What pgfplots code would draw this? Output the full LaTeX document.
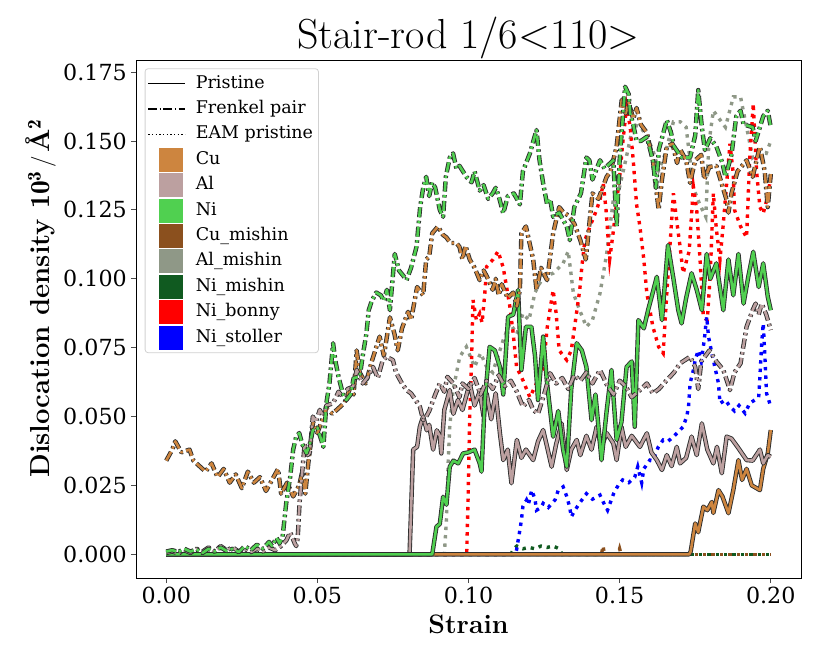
\documentclass[border=0pt]{standalone}
\usepackage{pgfplots}
\pgfplotsset{compat=1.18}
\usepackage{fontspec}
\newfontfamily\dvs{DejaVu Serif}
\definecolor{cu}{RGB}{205,133,63}
\definecolor{al}{RGB}{188,160,160}
\definecolor{ni}{RGB}{80,208,80}
\definecolor{cum}{RGB}{139,80,30}
\definecolor{alm}{RGB}{143,152,135}
\definecolor{nim}{RGB}{16,90,32}
\definecolor{nib}{RGB}{255,0,0}
\definecolor{nis}{RGB}{0,0,255}
\definecolor{outl}{RGB}{45,45,45}
\pgfplotsset{
 pr/.style={solid, line width=2.6pt, line join=round, preaction={draw=outl, line width=4.4pt, solid}},
 fp/.style={line width=2.6pt, line join=round, dash pattern=on 10pt off 3.5pt on 2.5pt off 3.5pt,
   preaction={draw=outl, line width=4.4pt, dash pattern=on 10pt off 3.5pt on 2.5pt off 3.5pt}},
 eam/.style={line width=3.4pt, dash pattern=on 3.4pt off 5pt},
}
\newcommand{\patch}[1]{\path[draw=none,fill=none] (0pt,0pt) -- (37pt,0pt); \fill[#1, draw=none, sharp corners] (11pt,-12pt) rectangle (35pt,12pt);}
\begin{document}
\begin{tikzpicture}
\useasboundingbox (0,0) rectangle (830pt,664pt);
\begin{axis}[
 at={(136pt,86pt)}, anchor=south west,
 scale only axis, width=665pt, height=518pt,
 xmin=-0.01, xmax=0.21, ymin=-0.0086, ymax=0.1794,
 xtick={0,0.05,0.1,0.15,0.2}, xticklabels={0.00,0.05,0.10,0.15,0.20},
 ytick={0,0.025,0.05,0.075,0.1,0.125,0.15,0.175},
 yticklabels={0.000,0.025,0.050,0.075,0.100,0.125,0.150,0.175},
 tick align=outside, tick pos=left, major tick length=5pt,
 every tick/.style={black!70, line width=0.8pt},
 axis line style={black, line width=0.9pt},
 ticklabel style={font=\dvs\fontsize{22.2}{26}\selectfont, inner sep=4pt},
 xlabel={\textbf{Strain}},
 ylabel={\textbf{Dislocation density $\mathbf{10^{3}}$\hspace{3pt}$\mathbf{/}$\hspace{4pt}Å$^{\mathbf{2}}$}},
 xlabel style={font=\fontsize{26.7}{32}\selectfont, at={(axis description cs:0.5,-0.0888)}, anchor=center},
 ylabel style={font=\fontsize{27.5}{33}\selectfont, at={(axis description cs:-0.143,0.54)}, anchor=center},
 title={Stair-rod 1/6<110>},
 title style={font=\fontsize{42}{50}\selectfont, at={(axis description cs:0.5,1)}, anchor=base, yshift=5pt},
 legend style={at={(axis description cs:0.0131,0.984)}, anchor=north west, draw=black!18,
   rounded corners=3pt, line width=0.8pt, fill=white, inner sep=2.3pt,
   font=\dvs\fontsize{17.5}{21}\selectfont, row sep=0pt,
   nodes={inner xsep=3pt, inner ysep=3.7pt, text height=13.5pt, text depth=4.5pt}},
 legend cell align=left,
 /tikz/every odd column/.append style={column sep=7pt},
]
\addlegendimage{legend image code/.code={\draw[black, line width=1.4pt, solid, sharp corners] (0pt,0pt) -- (37pt,0pt);}}
\addlegendentry{Pristine}
\addlegendimage{legend image code/.code={\draw[black, line width=1.4pt, dash pattern=on 9pt off 2.4pt on 1.5pt off 2.4pt] (0pt,0pt) -- (37pt,0pt);}}
\addlegendentry{Frenkel pair}
\addlegendimage{legend image code/.code={\draw[black, line width=1.4pt, dash pattern=on 1.4pt off 2.3pt] (0pt,0pt) -- (37pt,0pt);}}
\addlegendentry{EAM pristine}
\addlegendimage{legend image code/.code={\patch{cu}}}
\addlegendentry{Cu}
\addlegendimage{legend image code/.code={\patch{al}}}
\addlegendentry{Al}
\addlegendimage{legend image code/.code={\patch{ni}}}
\addlegendentry{Ni}
\addlegendimage{legend image code/.code={\patch{cum}}}
\addlegendentry{Cu\_mishin}
\addlegendimage{legend image code/.code={\patch{alm}}}
\addlegendentry{Al\_mishin}
\addlegendimage{legend image code/.code={\patch{nim}}}
\addlegendentry{Ni\_mishin}
\addlegendimage{legend image code/.code={\patch{nib}}}
\addlegendentry{Ni\_bonny}
\addlegendimage{legend image code/.code={\patch{nis}}}
\addlegendentry{Ni\_stoller}

% EAM dotted
\addplot[forget plot, cum, eam] coordinates {(0,0) (0.144,0) (0.1445,0.003) (0.145,0) (0.1495,0) (0.150,0.002) (0.1505,0) (0.172,0)};
\addplot[forget plot, cum, eam] coordinates {(0.172,0) (0.2,0)};
\addplot[forget plot, alm, eam] coordinates {(0,0) (0.092,0) (0.0927,0.0124) (0.0933,0.0342) (0.0938,0.0463) (0.0949,0.0596) (0.0971,0.0717) (0.0993,0.0753) (0.102,0.068) (0.104,0.073) (0.106,0.068) (0.108,0.066) (0.1115,0.0778) (0.1137,0.0838) (0.116,0.080) (0.118,0.0874) (0.120,0.085) (0.122,0.095) (0.1247,0.1007) (0.128,0.102) (0.1313,0.1056) (0.133,0.110) (0.1347,0.0947) (0.137,0.088) (0.139,0.0826) (0.141,0.085) (0.1435,0.0947) (0.1457,0.109) (0.1479,0.1286) (0.150,0.1334) (0.152,0.143) (0.1545,0.156) (0.157,0.155) (0.159,0.1515) (0.161,0.1467) (0.1629,0.1394) (0.165,0.145) (0.1678,0.157) (0.170,0.157) (0.172,0.155) (0.1744,0.133) (0.1765,0.127) (0.1785,0.1225) (0.1795,0.149) (0.181,0.161) (0.183,0.158) (0.185,0.155) (0.1876,0.166) (0.190,0.166) (0.192,0.155) (0.194,0.144) (0.196,0.146) (0.1985,0.1455) (0.200,0.150)};
\addplot[forget plot, nim, eam] coordinates {(0,0) (0.114,0) (0.115,0.002) (0.116,0.003) (0.118,0.002) (0.120,0.0025) (0.122,0.002) (0.124,0.003) (0.126,0.0025) (0.128,0.003) (0.130,0.002) (0.131,0.0) (0.172,0)};
\addplot[forget plot, nim, eam, dash phase=4.2pt] coordinates {(0.172,0) (0.2,0)};
\addplot[forget plot, nib, eam] coordinates {(0,0) (0.0994,0) (0.0999,0.022) (0.1004,0.050) (0.101,0.0705) (0.1015,0.0923) (0.1026,0.085) (0.1037,0.0874) (0.1045,0.084) (0.1054,0.0947) (0.106,0.1044) (0.1081,0.107) (0.1098,0.110) (0.1115,0.104) (0.1126,0.097) (0.1137,0.0898) (0.1148,0.080) (0.1159,0.068) (0.118,0.0632) (0.1203,0.057) (0.1225,0.062) (0.1247,0.0669) (0.126,0.082) (0.128,0.0959) (0.129,0.0874) (0.130,0.074) (0.1325,0.0705) (0.134,0.074) (0.1368,0.0959) (0.1375,0.1044) (0.1385,0.114) (0.1402,0.119) (0.142,0.124) (0.1435,0.1286) (0.1446,0.1346) (0.1455,0.125) (0.1467,0.107) (0.148,0.118) (0.149,0.128) (0.150,0.137) (0.151,0.149) (0.1523,0.1624) (0.1535,0.155) (0.1545,0.143) (0.1556,0.127) (0.1567,0.119) (0.158,0.107) (0.159,0.0947) (0.161,0.0826) (0.1629,0.0753) (0.1644,0.073) (0.1656,0.0947) (0.1678,0.131) (0.169,0.120) (0.170,0.1116) (0.171,0.102) (0.173,0.110) (0.1744,0.1334) (0.1755,0.125) (0.1766,0.107) (0.1777,0.0862) (0.179,0.085) (0.180,0.102) (0.181,0.131) (0.182,0.118) (0.1832,0.107) (0.1843,0.120) (0.1865,0.149) (0.1876,0.138) (0.188,0.125) (0.190,0.119) (0.192,0.115) (0.193,0.143) (0.1942,0.1636) (0.1953,0.139) (0.1964,0.126) (0.1975,0.1237) (0.199,0.130) (0.200,0.137)};
\addplot[forget plot, nis, eam] coordinates {(0,0) (0.1155,0) (0.1159,0.0016) (0.117,0.0088) (0.1175,0.0124) (0.118,0.0173) (0.1192,0.0197) (0.1198,0.018) (0.1209,0.0233) (0.122,0.020) (0.1225,0.016) (0.124,0.017) (0.1247,0.0185) (0.1264,0.0170) (0.1286,0.0197) (0.1297,0.0233) (0.1313,0.0245) (0.1325,0.021) (0.1335,0.017) (0.134,0.0136) (0.1352,0.016) (0.1375,0.0197) (0.139,0.022) (0.141,0.020) (0.1435,0.0215) (0.145,0.018) (0.146,0.016) (0.148,0.022) (0.1495,0.025) (0.151,0.027) (0.153,0.026) (0.155,0.028) (0.156,0.0318) (0.1573,0.026) (0.158,0.031) (0.160,0.0342) (0.161,0.034) (0.1628,0.039) (0.1644,0.0415) (0.166,0.041) (0.1678,0.0427) (0.169,0.044) (0.171,0.0463) (0.1722,0.050) (0.1728,0.0536) (0.173,0.057) (0.1733,0.062) (0.1744,0.0669) (0.175,0.0705) (0.176,0.074) (0.177,0.070) (0.178,0.0778) (0.1788,0.0862) (0.1794,0.079) (0.1805,0.073) (0.1815,0.068) (0.1827,0.062) (0.1832,0.0548) (0.185,0.056) (0.1865,0.0536) (0.188,0.052) (0.1895,0.054) (0.1915,0.0512) (0.193,0.0548) (0.1947,0.056) (0.196,0.057) (0.1964,0.0644) (0.197,0.0766) (0.1975,0.0838) (0.198,0.073) (0.1986,0.0584) (0.200,0.0536)};

% Pristine solid
\addplot[forget plot, cu, pr] coordinates {(0,0) (0.173,0) (0.1735,0.001) (0.175,0.0112) (0.176,0.008) (0.1777,0.0173) (0.179,0.016) (0.1805,0.019) (0.181,0.015) (0.1827,0.0233) (0.184,0.021) (0.186,0.0149) (0.1876,0.0233) (0.1893,0.0342) (0.1905,0.027) (0.192,0.031) (0.1937,0.025) (0.1953,0.024) (0.1964,0.0233) (0.1975,0.031) (0.199,0.0366) (0.200,0.0451)};
\addplot[forget plot, al, pr] coordinates {(0,0) (0.0805,0) (0.0817,0.038) (0.083,0.039) (0.0839,0.0463) (0.085,0.050) (0.0862,0.045) (0.087,0.047) (0.0883,0.038) (0.0895,0.045) (0.0905,0.043) (0.091,0.0366) (0.092,0.0524) (0.0938,0.0596) (0.095,0.051) (0.0965,0.056) (0.098,0.0524) (0.1004,0.062) (0.102,0.054) (0.1037,0.059) (0.105,0.050) (0.106,0.0584) (0.1075,0.049) (0.109,0.0584) (0.1104,0.0439) (0.1115,0.0342) (0.113,0.038) (0.1142,0.0258) (0.116,0.0415) (0.1175,0.035) (0.119,0.038) (0.1214,0.0342) (0.123,0.041) (0.1247,0.0451) (0.126,0.039) (0.1275,0.0318) (0.129,0.040) (0.1308,0.0475) (0.1325,0.0306) (0.134,0.038) (0.1358,0.0415) (0.137,0.036) (0.139,0.043) (0.1407,0.038) (0.1424,0.0463) (0.144,0.039) (0.1457,0.044) (0.1479,0.0403) (0.149,0.0342) (0.1506,0.0463) (0.152,0.039) (0.154,0.043) (0.1567,0.039) (0.159,0.0439) (0.1605,0.037) (0.1623,0.0342) (0.164,0.0306) (0.1656,0.036) (0.1672,0.032) (0.1689,0.039) (0.170,0.033) (0.172,0.035) (0.1738,0.0427) (0.1755,0.036) (0.1772,0.0475) (0.179,0.038) (0.181,0.033) (0.1822,0.039) (0.1838,0.0294) (0.1854,0.0427) (0.187,0.042) (0.189,0.039) (0.192,0.0342) (0.194,0.034) (0.1964,0.038) (0.1975,0.033) (0.199,0.036) (0.200,0.0354)};
\addplot[forget plot, ni, pr] coordinates {(0,0) (0.088,0) (0.0894,0.010) (0.0905,0.011) (0.0916,0.0209) (0.0927,0.018) (0.0938,0.0318) (0.095,0.034) (0.0966,0.033) (0.0982,0.0366) (0.100,0.037) (0.102,0.038) (0.1037,0.033) (0.1043,0.030) (0.1054,0.056) (0.107,0.0753) (0.1087,0.074) (0.1104,0.068) (0.1115,0.058) (0.1131,0.0862) (0.1148,0.087) (0.1164,0.0959) (0.1175,0.0669) (0.119,0.0826) (0.1208,0.0826) (0.122,0.072) (0.123,0.056) (0.1247,0.079) (0.126,0.062) (0.128,0.0427) (0.1297,0.052) (0.1313,0.038) (0.1325,0.0318) (0.134,0.060) (0.1358,0.0766) (0.1375,0.074) (0.139,0.068) (0.1407,0.0487) (0.142,0.058) (0.144,0.0342) (0.1457,0.052) (0.1473,0.0669) (0.149,0.0415) (0.1506,0.048) (0.1523,0.068) (0.154,0.070) (0.155,0.0463) (0.1562,0.085) (0.158,0.082) (0.1595,0.089) (0.1606,0.0935) (0.1623,0.1007) (0.164,0.085) (0.166,0.1122) (0.1678,0.100) (0.1694,0.0886) (0.1705,0.0838) (0.172,0.093) (0.1738,0.102) (0.1755,0.096) (0.1772,0.0886) (0.1788,0.109) (0.180,0.100) (0.182,0.1056) (0.1843,0.0886) (0.186,0.107) (0.1876,0.094) (0.1893,0.109) (0.191,0.091) (0.1926,0.101) (0.1942,0.1098) (0.196,0.097) (0.1975,0.1056) (0.199,0.0935) (0.200,0.0886)};

% Frenkel pair dash-dot
\addplot[forget plot, cu, fp] coordinates {(0.000,0.034) (0.002,0.038) (0.003,0.041) (0.005,0.037) (0.0077,0.038) (0.009,0.034) (0.011,0.032) (0.013,0.030) (0.015,0.033) (0.017,0.028) (0.019,0.031) (0.021,0.026) (0.023,0.029) (0.025,0.024) (0.027,0.030) (0.029,0.026) (0.031,0.028) (0.033,0.023) (0.035,0.027) (0.037,0.031) (0.038,0.022) (0.040,0.026) (0.042,0.021) (0.044,0.025) (0.045,0.030) (0.046,0.022) (0.047,0.033) (0.0486,0.048) (0.050,0.044) (0.052,0.050) (0.053,0.053) (0.055,0.051) (0.057,0.053) (0.059,0.055) (0.0607,0.060) (0.062,0.058) (0.063,0.074) (0.064,0.066) (0.066,0.062) (0.068,0.070) (0.0706,0.079) (0.072,0.072) (0.074,0.086) (0.0755,0.080) (0.0766,0.074) (0.078,0.082) (0.080,0.088) (0.081,0.085) (0.083,0.097) (0.085,0.094) (0.086,0.107) (0.087,0.108) (0.088,0.1165) (0.0899,0.119) (0.0915,0.116) (0.0927,0.115) (0.094,0.113) (0.096,0.113) (0.097,0.1116) (0.098,0.107) (0.099,0.112) (0.1004,0.107) (0.102,0.104) (0.1037,0.0995) (0.105,0.103) (0.106,0.101) (0.108,0.096) (0.109,0.100) (0.110,0.094) (0.111,0.098) (0.113,0.093) (0.1148,0.095) (0.116,0.090) (0.117,0.096) (0.1175,0.1165) (0.119,0.119) (0.1214,0.107) (0.1225,0.096) (0.124,0.104) (0.126,0.0995) (0.128,0.1165) (0.130,0.126) (0.1315,0.124) (0.133,0.123) (0.135,0.120) (0.137,0.114) (0.1388,0.107) (0.141,0.131) (0.143,0.129) (0.1457,0.137) (0.147,0.139) (0.149,0.148) (0.1507,0.165) (0.152,0.160) (0.153,0.164) (0.1545,0.158) (0.1556,0.162) (0.157,0.156) (0.159,0.153) (0.161,0.143) (0.1629,0.125) (0.164,0.136) (0.1656,0.148) (0.1675,0.149) (0.169,0.142) (0.170,0.147) (0.172,0.143) (0.1733,0.1348) (0.175,0.143) (0.177,0.145) (0.178,0.136) (0.1797,0.1406) (0.182,0.141) (0.1854,0.1285) (0.186,0.124) (0.187,0.131) (0.189,0.139) (0.192,0.143) (0.194,0.137) (0.1964,0.148) (0.198,0.139) (0.199,0.126) (0.200,0.138)};
\addplot[forget plot, al, fp] coordinates {(0,0.0005) (0.002,0.001) (0.004,0.0003) (0.006,0.0015) (0.008,0.0005) (0.010,0.002) (0.012,0.001) (0.014,0.0025) (0.016,0.001) (0.018,0.003) (0.020,0.0015) (0.022,0.0025) (0.024,0.001) (0.026,0.002) (0.028,0.0008) (0.030,0.002) (0.032,0.001) (0.034,0.0025) (0.036,0.0015) (0.038,0.003) (0.0397,0.005) (0.041,0.008) (0.0425,0.004) (0.043,0.003) (0.0435,0.006) (0.0441,0.0185) (0.045,0.030) (0.0458,0.040) (0.0468,0.036) (0.0475,0.037) (0.0485,0.050) (0.0495,0.048) (0.0508,0.0524) (0.052,0.050) (0.053,0.054) (0.0552,0.0548) (0.057,0.059) (0.0585,0.057) (0.060,0.060) (0.0618,0.0608) (0.063,0.0669) (0.065,0.062) (0.0665,0.064) (0.0684,0.068) (0.070,0.064) (0.0715,0.070) (0.0728,0.0717) (0.075,0.0705) (0.076,0.066) (0.078,0.062) (0.0795,0.0596) (0.081,0.0584) (0.0825,0.056) (0.0839,0.0536) (0.085,0.0487) (0.086,0.050) (0.087,0.052) (0.088,0.055) (0.089,0.058) (0.0905,0.062) (0.092,0.059) (0.093,0.0644) (0.095,0.062) (0.097,0.057) (0.098,0.062) (0.100,0.060) (0.102,0.064) (0.104,0.058) (0.106,0.063) (0.108,0.060) (0.110,0.065) (0.112,0.061) (0.114,0.063) (0.116,0.059) (0.118,0.0536) (0.120,0.056) (0.1214,0.0524) (0.123,0.051) (0.125,0.058) (0.127,0.0657) (0.129,0.062) (0.131,0.064) (0.133,0.060) (0.135,0.065) (0.137,0.063) (0.139,0.066) (0.141,0.062) (0.1435,0.0669) (0.146,0.061) (0.148,0.058) (0.150,0.063) (0.152,0.061) (0.154,0.057) (0.1567,0.0596) (0.159,0.062) (0.161,0.0584) (0.163,0.060) (0.1656,0.0632) (0.168,0.066) (0.170,0.0693) (0.1733,0.0717) (0.175,0.068) (0.176,0.060) (0.177,0.070) (0.1797,0.074) (0.182,0.070) (0.1843,0.0669) (0.1865,0.0596) (0.188,0.066) (0.190,0.0693) (0.192,0.0826) (0.194,0.0886) (0.195,0.091) (0.196,0.087) (0.197,0.091) (0.1985,0.087) (0.200,0.0814)};
\addplot[forget plot, ni, fp] coordinates {(0,0.001) (0.002,0.0015) (0.004,0.0008) (0.006,0.002) (0.008,0.001) (0.010,0.0018) (0.012,0.0005) (0.014,0.002) (0.016,0.001) (0.018,0.0025) (0.020,0.0012) (0.022,0.002) (0.024,0.0008) (0.026,0.003) (0.028,0.0015) (0.030,0.0035) (0.032,0.002) (0.034,0.0045) (0.035,0.003) (0.0365,0.006) (0.0375,0.004) (0.0385,0.0064) (0.0397,0.0186) (0.041,0.028) (0.042,0.038) (0.043,0.0427) (0.044,0.044) (0.045,0.040) (0.0464,0.0367) (0.0475,0.040) (0.0485,0.045) (0.050,0.046) (0.052,0.039) (0.053,0.055) (0.054,0.062) (0.0552,0.0766) (0.056,0.070) (0.057,0.0644) (0.0585,0.058) (0.0596,0.056) (0.061,0.058) (0.062,0.064) (0.064,0.0644) (0.065,0.072) (0.0662,0.080) (0.067,0.0886) (0.068,0.092) (0.0695,0.095) (0.071,0.094) (0.072,0.092) (0.073,0.096) (0.074,0.0886) (0.0756,0.109) (0.077,0.103) (0.0785,0.101) (0.0795,0.0995) (0.081,0.104) (0.0828,0.1116) (0.084,0.126) (0.085,0.133) (0.086,0.137) (0.087,0.130) (0.088,0.135) (0.089,0.133) (0.0905,0.125) (0.0916,0.1225) (0.0925,0.137) (0.0938,0.144) (0.0949,0.1455) (0.096,0.140) (0.097,0.141) (0.0993,0.137) (0.101,0.135) (0.102,0.139) (0.1037,0.132) (0.105,0.134) (0.1065,0.129) (0.108,0.131) (0.109,0.133) (0.110,0.130) (0.1115,0.1237) (0.113,0.130) (0.115,0.131) (0.117,0.127) (0.118,0.139) (0.1203,0.1455) (0.1225,0.154) (0.1235,0.143) (0.1247,0.1346) (0.126,0.127) (0.127,0.129) (0.128,0.1225) (0.130,0.124) (0.1325,0.119) (0.1335,0.114) (0.135,0.126) (0.1372,0.131) (0.139,0.144) (0.140,0.143) (0.141,0.136) (0.1435,0.143) (0.145,0.140) (0.1479,0.143) (0.149,0.119) (0.150,0.143) (0.1518,0.1697) (0.153,0.167) (0.1535,0.16) (0.1545,0.156) (0.1556,0.150) (0.157,0.150) (0.159,0.1515) (0.161,0.143) (0.162,0.133) (0.163,0.147) (0.1656,0.1576) (0.167,0.153) (0.168,0.148) (0.1705,0.144) (0.1733,0.144) (0.175,0.152) (0.176,0.1685) (0.1772,0.155) (0.1782,0.1467) (0.180,0.151) (0.182,0.148) (0.184,0.142) (0.185,0.137) (0.187,0.145) (0.1886,0.159) (0.190,0.161) (0.191,0.156) (0.194,0.155) (0.195,0.150) (0.1975,0.159) (0.199,0.161) (0.200,0.155)};
\end{axis}
\end{tikzpicture}
\end{document}
